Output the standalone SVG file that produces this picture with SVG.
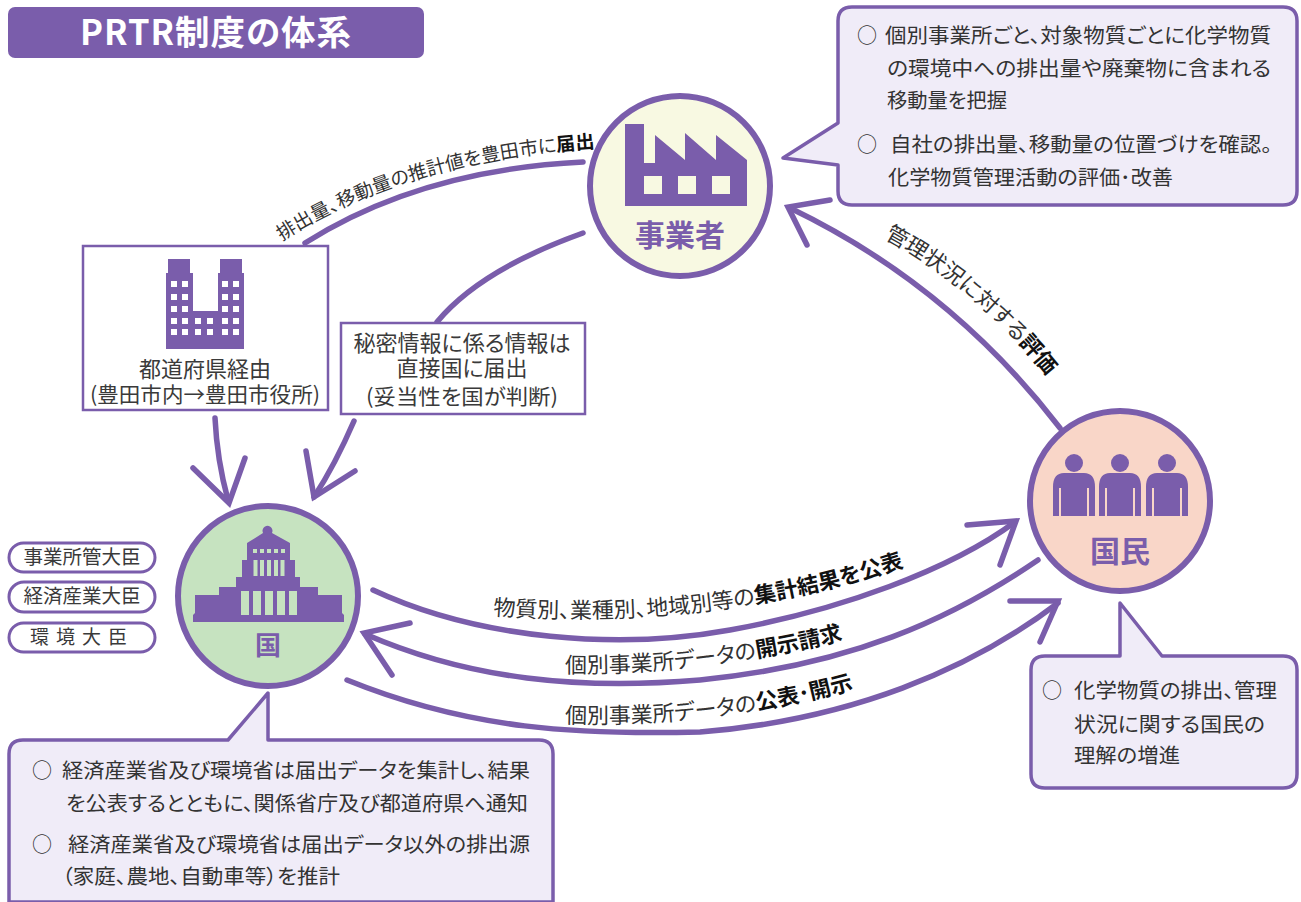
<svg xmlns="http://www.w3.org/2000/svg" xmlns:xlink="http://www.w3.org/1999/xlink" width="1301" height="902" viewBox="0 0 1301 902">
<style>
text{font-family:"Noto Sans CJK JP","Noto Sans",sans-serif;fill:#3a3a3a;font-feature-settings:"palt"}
.b{font-size:20.500px;fill:#333}
.o{font-size:20px;fill:#333;font-feature-settings:normal}
.c{stroke:#7a5dab;stroke-width:6}
.ic{fill:#7a5dab}
.lbl{fill:#7a5dab;font-weight:700;text-anchor:middle}
.box{fill:#f0ecf8;stroke:#7a5dab;stroke-width:3.500;stroke-linejoin:round}
.wb{fill:#fff;stroke:#7a5dab;stroke-width:2.500}
.pill{fill:#fff;stroke:#7a5dab;stroke-width:3}
.cv{font-size:22px;fill:#333}
.cvt{font-size:19px;fill:#333}
.cvl{font-size:22px;fill:#333}
.m{text-anchor:middle}
.conn path{fill:none;stroke:#7a5dab;stroke-width:5.500;stroke-linecap:round;stroke-linejoin:miter}
.bold{font-weight:700;fill:#111}
</style>
<defs>
<g id="person">
<circle cx="0" cy="0" r="9"/>
<path d="M-21,53 L-21,24 Q-21,10 -10,10 L10,10 Q21,10 21,24 L21,53 L15,53 L15,25 L13,25 L13,53 L-13,53 L-13,25 L-15,25 L-15,53 Z"/>
</g>
<path id="cv1" d="M282,241 Q420,152 640,146"/>
<path id="cv2" d="M884,238 Q985,293 1060,393"/>
<path id="cv3" d="M493,615 Q720,632 925,560"/>
<path id="cv4" d="M565,673 Q720,675 880,630"/>
<path id="cv5" d="M565,723 Q730,728 885,680"/>
</defs>

<g id="title">
<rect x="8" y="7" width="416" height="51" rx="7" fill="#7a5dab"/>
<text x="216" y="45" text-anchor="middle" font-size="34.500" font-weight="700" letter-spacing="1" style="fill:#fff">PRTR制度の体系</text>
</g>

<g id="connectors" class="conn">
<path d="M305,243 Q420,170 583,162"/>
<path d="M583,233 Q480,270 437,322"/>
<path d="M1060,428 Q950,285 790,208"/>
<path d="M830,200 L788,207 L807,245"/>
<path d="M215,418 Q217,460 228,500"/>
<path d="M193,468 L229,503 L245,458"/>
<path d="M354,421 Q335,465 314,497"/>
<path d="M306,451 L314,497 L355,471"/>
<path d="M373,590 C480,640 620,650 730,630 C840,610 950,570 1015,522"/>
<path d="M967,525 L1016,521 L1000,565"/>
<path d="M1038,560 C950,620 850,665 700,680 C580,690 470,680 365,634"/>
<path d="M410,623 L364,633 L392,675"/>
<path d="M347,680 C470,730 580,735 700,732 C850,720 970,670 1058,603"/>
<path d="M1010,601 L1058,601 L1040,642"/>
</g>

<g id="curved-labels">
<text class="cvt"><textPath href="#cv1" xlink:href="#cv1">排出量、移動量の推計値を豊田市に<tspan class="bold">届出</tspan></textPath></text>
<text class="cvl"><textPath href="#cv2" xlink:href="#cv2">管理状況に対する<tspan class="bold">評価</tspan></textPath></text>
<text class="cv"><textPath href="#cv3" xlink:href="#cv3">物質別、業種別、地域別等の<tspan class="bold">集計結果を公表</tspan></textPath></text>
<text class="cv"><textPath href="#cv4" xlink:href="#cv4">個別事業所データの<tspan class="bold">開示請求</tspan></textPath></text>
<text class="cv"><textPath href="#cv5" xlink:href="#cv5">個別事業所データの<tspan class="bold">公表･開示</tspan></textPath></text>
</g>

<g id="node-jigyosha">
<circle class="c" cx="680" cy="186" r="90" fill="#f8f9e2"/>
<path class="ic" d="M625,124 H644 V163 H655 V135 L685,160 V133 L716,160 V135 L747,160 V206 H625 Z"/>
<rect x="644" y="176" width="18" height="18" fill="#f8f9e2"/><rect x="678" y="176" width="18" height="18" fill="#f8f9e2"/><rect x="712" y="176" width="18" height="18" fill="#f8f9e2"/>
<text class="lbl" x="680" y="246" font-size="30" style="fill:#7a5dab">事業者</text>
</g>

<g id="node-kuni">
<circle class="c" cx="268" cy="596" r="90" fill="#c6e3c0"/>
<path class="ic" d="M193,622 V615 L195,613 V595 H219 V587 H236 V577 H242 V560 H247 V543 L263,533 A5,5 0 1 1 272,533 L290,543 V560 H295 V577 H300 V587 H318 V595 H342 V613 L344,615 V622 Z"/>
<g fill="#c6e3c0">
<rect x="241" y="591" width="8" height="24"/><rect x="253" y="591" width="8" height="24"/><rect x="265" y="591" width="8" height="24"/><rect x="277" y="591" width="8" height="24"/><rect x="289" y="591" width="8" height="24"/>
<rect x="253.500" y="560" width="4" height="16"/><rect x="260" y="560" width="4" height="16"/><rect x="267" y="560" width="4" height="16"/><rect x="274" y="560" width="4" height="16"/><rect x="280.500" y="560" width="4" height="16"/>
<rect x="253" y="549" width="4" height="4"/><rect x="260" y="549" width="4" height="4"/><rect x="267" y="549" width="4" height="4"/><rect x="274" y="549" width="4" height="4"/><rect x="281" y="549" width="4" height="4"/>
</g>
<text class="lbl" x="268" y="655" font-size="26" style="fill:#7a5dab">国</text>
</g>

<g id="node-kokumin">
<circle class="c" cx="1120" cy="501" r="90" fill="#f9d6c8"/>
<g class="ic">
<use href="#person" xlink:href="#person" x="1074" y="463"/>
<use href="#person" xlink:href="#person" x="1120" y="463"/>
<use href="#person" xlink:href="#person" x="1167" y="463"/>
</g>
<text class="lbl" x="1120" y="562" font-size="30" style="fill:#7a5dab">国民</text>
</g>

<g id="node-prefecture">
<rect class="wb" x="83" y="246" width="245" height="164"/>
<path class="ic" d="M168,259 H190 V273 H193 V311 H218 V273 H220 V259 H242 V273 H244 V349 H166 V273 H168 Z"/>
<g fill="#fff">
<rect x="171" y="281" width="6" height="6"/><rect x="182" y="281" width="6" height="6"/><rect x="222" y="281" width="6" height="6"/><rect x="233" y="281" width="6" height="6"/>
<rect x="171" y="294" width="6" height="6"/><rect x="182" y="294" width="6" height="6"/><rect x="222" y="294" width="6" height="6"/><rect x="233" y="294" width="6" height="6"/>
<rect x="171" y="306" width="6" height="6"/><rect x="182" y="306" width="6" height="6"/><rect x="222" y="306" width="6" height="6"/><rect x="233" y="306" width="6" height="6"/>
<rect x="171" y="318" width="6" height="6"/><rect x="182" y="318" width="6" height="6"/><rect x="195" y="318" width="6" height="6"/><rect x="207" y="318" width="6" height="6"/><rect x="222" y="318" width="6" height="6"/><rect x="233" y="318" width="6" height="6"/>
<rect x="171" y="329" width="6" height="6"/><rect x="182" y="329" width="6" height="6"/><rect x="195" y="329" width="6" height="6"/><rect x="207" y="329" width="6" height="6"/><rect x="222" y="329" width="6" height="6"/><rect x="233" y="329" width="6" height="6"/>
</g>
<text class="m" x="205" y="377" font-size="22">都道府県経由</text>
<text class="m" x="205" y="402" font-size="21" textLength="230" lengthAdjust="spacingAndGlyphs">(豊田市内→豊田市役所)</text>
</g>

<g id="node-secret">
<rect class="wb" x="341" y="323" width="244" height="91"/>
<text class="m" x="462" y="351" font-size="22">秘密情報に係る情報は</text>
<text class="m" x="462" y="376" font-size="22">直接国に届出</text>
<text class="m" x="462" y="404" font-size="21" textLength="192" lengthAdjust="spacingAndGlyphs">(妥当性を国が判断)</text>
</g>

<g id="node-ministers">
<rect class="pill" x="9" y="543" width="146" height="29" rx="14.500"/>
<rect class="pill" x="9" y="582" width="146" height="30" rx="15"/>
<rect class="pill" x="9" y="623" width="146" height="29" rx="14.500"/>
<text class="m" x="82" y="564" font-size="19.500">事業所管大臣</text>
<text class="m" x="82" y="603" font-size="19.500">経済産業大臣</text>
<text class="m" x="82" y="644" font-size="19" letter-spacing="7">環境大臣</text>
</g>

<g id="note-jigyosha">
<path class="box" d="M852,7 H1283 Q1297,7 1297,21 V191 Q1297,205 1283,205 H852 Q838,205 838,191 V165 L783,158 L838,123 V21 Q838,7 852,7 Z"/>
<text class="o" x="857" y="43">○</text>
<text class="b" x="885" y="43" textLength="386" lengthAdjust="spacingAndGlyphs">個別事業所ごと、対象物質ごとに化学物質</text>
<text class="b" x="887" y="76" textLength="384" lengthAdjust="spacingAndGlyphs">の環境中への排出量や廃棄物に含まれる</text>
<text class="b" x="887" y="108" textLength="120" lengthAdjust="spacingAndGlyphs">移動量を把握</text>
<text class="o" x="857" y="152">○</text>
<text class="b" x="890" y="152" textLength="382" lengthAdjust="spacingAndGlyphs">自社の排出量、移動量の位置づけを確認。</text>
<text class="b" x="888" y="185" textLength="285" lengthAdjust="spacingAndGlyphs">化学物質管理活動の評価･改善</text>
</g>

<g id="note-kuni">
<path class="box" d="M23,740 H228 L268,693 V740 H539 Q553,740 553,754 V902 H9 V754 Q9,740 23,740 Z"/>
<text class="o" x="32" y="778">○</text>
<text class="b" x="62" y="778" textLength="468" lengthAdjust="spacingAndGlyphs">経済産業省及び環境省は届出データを集計し、結果</text>
<text class="b" x="66" y="811" textLength="462" lengthAdjust="spacingAndGlyphs">を公表するとともに、関係省庁及び都道府県へ通知</text>
<text class="o" x="32" y="852">○</text>
<text class="b" x="68" y="852" textLength="462" lengthAdjust="spacingAndGlyphs">経済産業省及び環境省は届出データ以外の排出源</text>
<text class="b" x="62" y="884" textLength="278" lengthAdjust="spacingAndGlyphs">（家庭、農地、自動車等）を推計</text>
</g>

<g id="note-kokumin">
<path class="box" d="M1045,656 H1120 V603 L1162,656 H1283 Q1297,656 1297,670 V774 Q1297,788 1283,788 H1045 Q1031,788 1031,774 V670 Q1031,656 1045,656 Z"/>
<text class="o" x="1042" y="698">○</text>
<text class="b" x="1074" y="698" textLength="203" lengthAdjust="spacingAndGlyphs">化学物質の排出、管理</text>
<text class="b" x="1074" y="732" textLength="191" lengthAdjust="spacingAndGlyphs">状況に関する国民の</text>
<text class="b" x="1074" y="763" textLength="106" lengthAdjust="spacingAndGlyphs">理解の増進</text>
</g>
</svg>
